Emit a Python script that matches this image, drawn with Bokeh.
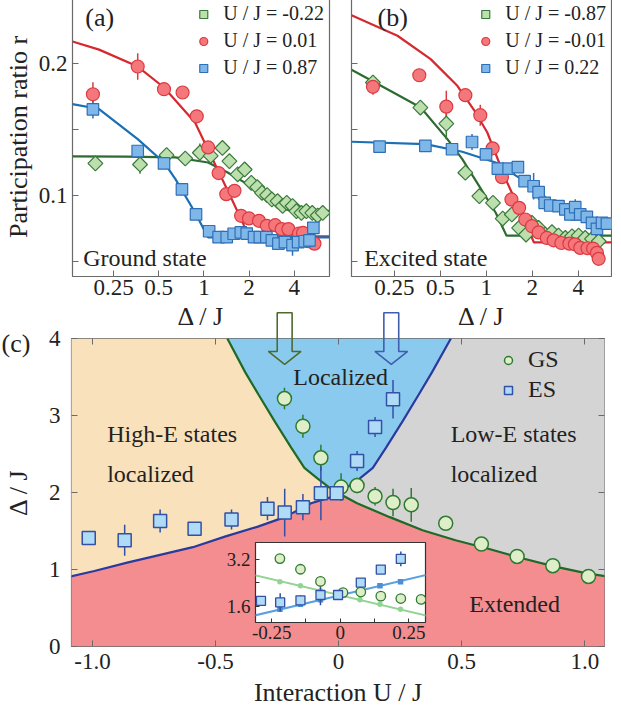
import numpy as np
from bokeh.plotting import figure
from bokeh.models import (Range1d, FixedTicker, LinearAxis, Legend, LegendItem, Label,
                          NumeralTickFormatter, CustomJSTickFormatter)
from bokeh.layouts import column
from bokeh.embed import file_html
from bokeh.resources import INLINE

FONT = "Liberation Serif"

# ---------------- data: panels (a) and (b) ----------------
ab_x_ticks = [0.25, 0.5, 1, 2, 4]
ab_y_ticks = [0.1, 0.2]
ab_y_minor = [0.05, 0.15]

a_green_x = [0.189, 0.375, 0.564, 0.751, 0.94, 1.11, 1.33, 1.48, 1.68, 1.87, 2.07, 2.27, 2.44, 2.64,
             2.84, 3.1, 3.35, 3.57, 3.9, 4.14, 4.47, 4.82, 5.28, 5.74, 6.2]
a_green_y = [0.1243, 0.1235, 0.1306, 0.128, 0.1324, 0.130, 0.136, 0.126, 0.116, 0.1197, 0.1096, 0.1063,
             0.102, 0.1003, 0.097, 0.0957, 0.092, 0.0944, 0.092, 0.0881, 0.0868, 0.0881, 0.0868, 0.0848, 0.0868]
a_green_e = [0, 0.007, 0, 0.004, 0.007, 0, 0, 0, 0, 0, 0, 0, 0, 0, 0, 0, 0, 0, 0, 0, 0, 0, 0, 0, 0]

a_red_x = [0.182, 0.362, 0.542, 0.721, 0.896, 1.067, 1.254, 1.41, 1.6, 1.77, 2.0, 2.33, 2.63, 2.99,
           3.3, 3.66, 4.3, 4.58, 4.94, 5.46]
a_red_y = [0.1767, 0.1977, 0.1805, 0.178, 0.160, 0.1364, 0.117, 0.101, 0.1035, 0.0846, 0.0826, 0.0808,
           0.077, 0.0775, 0.0745, 0.0745, 0.0712, 0.0716, 0.0653, 0.0635]
a_red_e = [0.009, 0.01, 0.004, 0, 0, 0, 0, 0, 0, 0, 0, 0, 0, 0, 0, 0, 0, 0, 0, 0]

a_blue_x = [0.182, 0.362, 0.542, 0.714, 0.886, 1.084, 1.254, 1.42, 1.58, 1.764, 1.93, 2.16, 2.36, 2.61,
            2.84, 3.14, 3.47, 3.9, 4.25, 4.7, 5.06, 5.37]
a_blue_y = [0.1653, 0.1337, 0.1243, 0.1046, 0.0856, 0.0729, 0.0684, 0.0684, 0.071, 0.072, 0.0711, 0.0684,
            0.0684, 0.0684, 0.066, 0.0635, 0.0646, 0.0623, 0.0646, 0.0653, 0.066, 0.0755]
a_blue_e = [0.007, 0.004, 0, 0, 0, 0, 0, 0, 0, 0, 0, 0, 0, 0, 0, 0, 0, 0.008, 0, 0, 0, 0.004]

a_fit_green_x = [0.133, 0.3, 0.646, 1.067, 1.44, 1.95, 2.63, 3.2, 3.74, 6.9]
a_fit_green_y = [0.1296, 0.1295, 0.1288, 0.125, 0.1174, 0.1086, 0.0972, 0.0923, 0.0884, 0.0884]
a_fit_red_x = [0.133, 0.2, 0.362, 0.542, 0.873, 1.2, 1.5, 2.0, 6.9]
a_fit_red_y = [0.2167, 0.2105, 0.1977, 0.1818, 0.1553, 0.1225, 0.0996, 0.069, 0.069]
a_fit_blue_x = [0.133, 0.2, 0.362, 0.542, 0.646, 0.873, 1.067, 6.9]
a_fit_blue_y = [0.1692, 0.1655, 0.1427, 0.125, 0.1124, 0.0871, 0.0682, 0.0682]

b_green_x = [0.181, 0.37, 0.547, 0.729, 0.9, 1.106, 1.28, 1.47, 1.64, 1.82, 1.99, 2.2, 2.43, 2.69,
             2.97, 3.29, 3.64, 4.02, 4.44, 4.92, 5.44]
b_green_y = [0.1856, 0.1666, 0.1544, 0.1172, 0.0995, 0.0944, 0.0825, 0.0856, 0.0754, 0.0704, 0.0792,
             0.0754, 0.0704, 0.0722, 0.0696, 0.0678, 0.0691, 0.0696, 0.0678, 0.0671, 0.0653]
b_green_e = [0, 0, 0.012, 0, 0, 0, 0, 0, 0, 0, 0, 0, 0, 0, 0, 0, 0, 0, 0, 0, 0]

b_red_x = [0.181, 0.364, 0.547, 0.729, 0.913, 1.1, 1.266, 1.46, 1.64, 1.8, 1.99, 2.2, 2.49, 2.76, 3.1,
           3.5, 3.8, 4.12, 4.6, 5.0, 5.3, 5.44]
b_red_y = [0.1823, 0.1911, 0.1673, 0.176, 0.1608, 0.1357, 0.1139, 0.097, 0.0906, 0.0818, 0.0767, 0.072,
           0.0678, 0.066, 0.064, 0.0635, 0.063, 0.0603, 0.06, 0.0598, 0.0565, 0.052]
b_red_e = [0.006, 0.005, 0.012, 0, 0.008, 0.004, 0, 0, 0, 0, 0, 0, 0, 0, 0, 0, 0, 0, 0, 0, 0, 0]

b_blue_x = [0.2, 0.399, 0.596, 0.806, 0.995, 1.19, 1.4, 1.61, 1.78, 2.04, 2.2, 2.41, 2.62, 2.97, 3.29,
            3.55, 3.82, 4.12, 4.55, 4.92, 5.3, 5.72, 6.16]
b_blue_y = [0.137, 0.1375, 0.135, 0.1405, 0.1311, 0.1203, 0.1203, 0.1215, 0.1109, 0.107, 0.1025, 0.0944,
            0.0924, 0.0919, 0.0894, 0.0856, 0.0911, 0.0856, 0.0838, 0.0792, 0.0747, 0.0792, 0.0787]
b_blue_e = [0, 0, 0, 0.006, 0, 0, 0, 0, 0, 0.01, 0.006, 0, 0, 0, 0, 0, 0.006, 0, 0, 0, 0, 0, 0]

b_fit_green_x = [0.131, 0.225, 0.372, 0.556, 0.696, 0.896, 1.15, 1.357, 6.9]
b_fit_green_y = [0.1952, 0.1805, 0.1667, 0.1427, 0.1275, 0.1073, 0.0871, 0.0695, 0.0695]
b_fit_red_x = [0.131, 0.262, 0.432, 0.646, 0.851, 1.015, 1.338, 1.7, 2.05, 6.9]
b_fit_red_y = [0.2366, 0.221, 0.2033, 0.1831, 0.1629, 0.1477, 0.1123, 0.0864, 0.0644, 0.0644]
b_fit_blue_x = [0.131, 0.4, 0.696, 1.15, 1.9, 2.44, 3.14, 3.6, 6.9]
b_fit_blue_y = [0.1407, 0.1389, 0.1331, 0.125, 0.1086, 0.0985, 0.0871, 0.0816, 0.0816]

a_labels = ["U / J = -0.22", "U / J = 0.01", "U / J = 0.87"]
b_labels = ["U / J = -0.87", "U / J = -0.01", "U / J = 0.22"]

# ---------------- data: panel (c) ----------------
c_x_ticks = [-1.0, -0.5, 0.0, 0.5, 1.0]
c_y_ticks = [0, 1, 2, 3, 4]

gs_u = [-0.22, -0.145, -0.072, 0.01, 0.075, 0.148, 0.221, 0.295, 0.435, 0.58, 0.725, 0.87, 1.015]
gs_d = [3.22, 2.86, 2.45, 2.07, 2.09, 1.95, 1.87, 1.84, 1.60, 1.33, 1.17, 1.05, 0.91]
gs_e = [0.14, 0.15, 0.17, 0.18, 0.1, 0.12, 0.18, 0.22, 0.04, 0.04, 0.04, 0.03, 0.03]

es_u = [-1.015, -0.869, -0.725, -0.585, -0.435, -0.289, -0.219, -0.145, -0.072, -0.008, 0.075, 0.148, 0.221]
es_d = [1.41, 1.38, 1.63, 1.53, 1.65, 1.79, 1.74, 1.81, 1.99, 1.99, 2.41, 2.85, 3.21]
es_e = [0.05, 0.2, 0.15, 0.04, 0.13, 0.15, 0.31, 0.17, 0.35, 0.05, 0.13, 0.13, 0.25]

gs_bnd_u = [-0.452, -0.379, -0.325, -0.259, -0.192, -0.139, -0.085, -0.04, 0.0, 0.075, 0.208, 0.341,
            0.475, 0.608, 0.741, 0.875, 1.008, 1.088]
gs_bnd_d = [4.0, 3.56, 3.27, 2.92, 2.58, 2.32, 2.18, 2.07, 1.99, 1.86, 1.68, 1.51, 1.38, 1.27, 1.15,
            1.04, 0.95, 0.91]
es_bnd_u = [-1.088, -0.992, -0.859, -0.725, -0.592, -0.459, -0.325, -0.219, -0.112, -0.04, 0.0, 0.04,
            0.085, 0.139, 0.192, 0.259, 0.325, 0.379, 0.456]
es_bnd_d = [0.91, 0.98, 1.09, 1.19, 1.29, 1.43, 1.56, 1.68, 1.86, 1.93, 1.99, 2.08, 2.18, 2.32, 2.58,
            2.92, 3.27, 3.56, 4.0]

arrow_u = [-0.21, 0.22]

# inset
ins_x_ticks = [-0.25, 0.0, 0.25]
ins_x_minor = [-0.125, 0.125]
ins_y_ticks = [1.6, 3.2]
ins_y_minor = [2.4]
ins_u = [-0.22, -0.145, -0.072, 0.0, 0.072, 0.145, 0.22]
ins_gs_fit = [2.44, 2.30, 2.13, 1.98, 1.83, 1.68, 1.51]
ins_es_fit = [1.51, 1.68, 1.83, 1.98, 2.13, 2.30, 2.44]
ins_line_u = [-0.32, 0.32]
ins_gs_line = [2.68, 1.28]
ins_es_line = [1.28, 2.68]

# ---------------- styles ----------------
GREEN_F, GREEN_E, GREEN_L = "#bcdfae", "#3c7a3c", "#2d6b30"
RED_F, RED_E, RED_L = "#f4777b", "#dc3a40", "#d8282f"
BLUE_F, BLUE_E, BLUE_L = "#7fb8e8", "#2f6fb6", "#1a6fb5"
FRAME = "#6a6a6a"
TXT = "#222222"
BLANK = CustomJSTickFormatter(code="return '';")


def place(p, left, top):
    p.styles = {"position": "absolute", "left": f"{left}px", "top": f"{top}px"}
    p.frame_align = False


def style_axes(p, tick_size="23px"):
    for ax in p.axis:
        ax.axis_line_color = None
        ax.major_tick_in = 6
        ax.major_tick_out = 0
        ax.minor_tick_in = 6
        ax.minor_tick_out = 0
        ax.major_tick_line_color = FRAME
        ax.minor_tick_line_color = FRAME
        ax.major_label_text_font = FONT
        ax.major_label_text_font_size = tick_size
        ax.major_label_text_color = TXT
        ax.axis_label_text_font = FONT
        ax.axis_label_text_font_size = "26px"
        ax.axis_label_text_font_style = "normal"
        ax.axis_label_text_color = TXT
    p.grid.visible = False
    p.outline_line_color = FRAME
    p.outline_line_width = 1.2


def errbars(p, x, y, e, color):
    x = np.asarray(x); y = np.asarray(y); e = np.asarray(e)
    m = e > 0
    p.segment(x0=x[m], y0=y[m] - e[m], x1=x[m], y1=y[m] + e[m], line_color=color, line_width=1.5)


def panel_ab(tag, tag_f, state_f, x_range, width, b_left, b_right, show_y, data, fits, labels, state_text):
    p = figure(width=width, height=342, x_axis_type="log", x_range=x_range,
               y_range=Range1d(0.0386, 0.25), output_backend="svg", toolbar_location=None,
               min_border_left=b_left, min_border_right=b_right, min_border_top=1, min_border_bottom=62)
    style_axes(p)
    p.xaxis.ticker = FixedTicker(ticks=ab_x_ticks, minor_ticks=[])
    p.xaxis.formatter = NumeralTickFormatter(format="0.[00]")
    p.xaxis.axis_label = "Δ / J"
    p.xaxis.major_label_standoff = 3
    p.xaxis.axis_label_standoff = 4
    p.yaxis.ticker = FixedTicker(ticks=ab_y_ticks, minor_ticks=ab_y_minor)
    p.yaxis.formatter = NumeralTickFormatter(format="0.0")
    if show_y:
        p.yaxis.axis_label = "Participation ratio r"
        p.yaxis.major_label_standoff = 5
        p.yaxis.axis_label_standoff = 3
    else:
        p.yaxis.formatter = BLANK
        p.yaxis.major_label_standoff = 0

    (gx, gy, ge), (rx, ry, re), (bx, by, be) = data
    (fgx, fgy), (frx, fry), (fbx, fby) = fits
    p.line(fgx, fgy, line_color=GREEN_L, line_width=2.2)
    p.line(frx, fry, line_color=RED_L, line_width=2.2)
    p.line(fbx, fby, line_color=BLUE_L, line_width=2.2)
    errbars(p, gx, gy, ge, GREEN_E)
    errbars(p, rx, ry, re, RED_E)
    errbars(p, bx, by, be, BLUE_E)
    rg = p.scatter(gx, gy, marker="square", angle=np.pi / 4, size=10.5, fill_color=GREEN_F,
                   line_color=GREEN_E, line_width=1.2)
    rr = p.scatter(rx, ry, marker="circle", size=13, fill_color=RED_F, line_color=RED_E, line_width=1.2)
    rb = p.scatter(bx, by, marker="square", size=11.5, fill_color=BLUE_F, line_color=BLUE_E, line_width=1.2)

    leg = Legend(items=[LegendItem(label=labels[0], renderers=[rg]),
                        LegendItem(label=labels[1], renderers=[rr]),
                        LegendItem(label=labels[2], renderers=[rb])],
                 location="top_right", margin=5, padding=5, spacing=4,
                 glyph_width=20, glyph_height=20, label_height=20, label_standoff=10,
                 label_text_font=FONT, label_text_font_size="20px", label_text_color=TXT,
                 border_line_color=None, background_fill_alpha=0)
    p.add_layout(leg)
    p.add_layout(Label(x=x_range.start * tag_f, y=0.2348, text=tag, text_font=FONT, text_font_size="26px",
                       text_baseline="middle", text_color=TXT))
    p.add_layout(Label(x=x_range.start * state_f, y=0.0523, text=state_text, text_font=FONT,
                       text_font_size="24px", text_baseline="middle", text_color=TXT))
    return p


pa = panel_ab("(a)", 1.216, 1.18, Range1d(0.133, 6.88), 337, 67, 8, True,
              [(a_green_x, a_green_y, a_green_e), (a_red_x, a_red_y, a_red_e), (a_blue_x, a_blue_y, a_blue_e)],
              [(a_fit_green_x, a_fit_green_y), (a_fit_red_x, a_fit_red_y), (a_fit_blue_x, a_fit_blue_y)],
              a_labels, "Ground state")
pb = panel_ab("(b)", 1.48, 1.21, Range1d(0.131, 6.6), 275, 14, 1, False,
              [(b_green_x, b_green_y, b_green_e), (b_red_x, b_red_y, b_red_e), (b_blue_x, b_blue_y, b_blue_e)],
              [(b_fit_green_x, b_fit_green_y), (b_fit_red_x, b_fit_red_y), (b_fit_blue_x, b_fit_blue_y)],
              b_labels, "Excited state")
place(pa, 0, -4)
place(pb, 337, -4)

# ---------------- panel (c) ----------------
Y_TOP = 4.0
C_LEFT, C_RIGHT, C_TOP, C_BOTTOM = 68, 1, 30, 68
C_W, C_H = 612, 406
cx_range = Range1d(-1.085, 1.08)
pc = figure(width=C_W, height=C_H, x_range=cx_range, y_range=Range1d(0, Y_TOP),
            output_backend="svg", toolbar_location=None, min_border_left=C_LEFT, min_border_right=C_RIGHT,
            min_border_top=C_TOP, min_border_bottom=C_BOTTOM, border_fill_color=None)
pc.add_layout(LinearAxis(), "above")
pc.add_layout(LinearAxis(), "right")
style_axes(pc)
c_fmt = CustomJSTickFormatter(code="return Math.abs(tick) >= 1 ? tick.toFixed(1) : tick.toString();")
for ax in pc.xaxis:
    ax.ticker = FixedTicker(ticks=c_x_ticks, minor_ticks=[])
    ax.formatter = c_fmt
for ax in pc.yaxis:
    ax.ticker = FixedTicker(ticks=c_y_ticks, minor_ticks=[])
for ax in pc.above + pc.right:
    ax.formatter = BLANK
    ax.major_label_standoff = 0
pc.below[0].axis_label = "Interaction U / J"
pc.below[0].major_label_standoff = 7
pc.below[0].axis_label_standoff = 6
pc.left[0].axis_label = "Δ / J"
pc.left[0].major_label_standoff = 11
pc.left[0].axis_label_standoff = 13

gu, gd = np.array(gs_bnd_u), np.array(gs_bnd_d)
eu, ed = np.array(es_bnd_u), np.array(es_bnd_d)
gl, gr = gu <= 0, gu >= 0
el, er = eu <= 0, eu >= 0
x_left, x_right = eu[0], gu[-1]
red_x = [x_left, x_right] + list(gu[gr][::-1]) + list(eu[el][::-1])
red_y = [0, 0] + list(gd[gr][::-1]) + list(ed[el][::-1])
tan_x = list(eu[el]) + list(gu[gl][::-1]) + [x_left]
tan_y = list(ed[el]) + list(gd[gl][::-1]) + [Y_TOP]
blu_x = list(gu[gl]) + list(eu[er])
blu_y = list(gd[gl]) + list(ed[er])
gry_x = list(gu[gr]) + [x_right] + list(eu[er][::-1])
gry_y = list(gd[gr]) + [Y_TOP] + list(ed[er][::-1])
pc.patches(xs=[red_x, tan_x, blu_x, gry_x], ys=[red_y, tan_y, blu_y, gry_y],
           fill_color=["#f38d90", "#f8e1bb", "#89caee", "#d4d4d4"], line_color=None)
pc.line(gs_bnd_u, gs_bnd_d, line_color="#1f6a25", line_width=2.2)
pc.line(es_bnd_u, es_bnd_d, line_color="#2b3a9e", line_width=2.2)

GS_F, GS_E = "#ddeec9", "#2e7a30"
ES_F, ES_E = "#b0dbf6", "#3150a6"
errbars(pc, gs_u, gs_d, gs_e, GS_E)
errbars(pc, es_u, es_d, es_e, ES_E)
r_gs = pc.scatter(gs_u, gs_d, marker="circle", size=14, fill_color=GS_F, line_color=GS_E, line_width=1.5)
r_es = pc.scatter(es_u, es_d, marker="square", size=13, fill_color=ES_F, line_color=ES_E, line_width=1.5)

for txt, x, y, align in [("Localized", 0.008, 3.5, "center"), ("High-E states", -0.94, 2.76, "left"),
                         ("localized", -0.94, 2.24, "left"), ("Low-E states", 0.455, 2.76, "left"),
                         ("localized", 0.455, 2.24, "left"), ("Extended", 0.715, 0.55, "center")]:
    pc.add_layout(Label(x=x, y=y, text=txt, text_font=FONT, text_font_size="24px", text_align=align,
                        text_baseline="middle", text_color=TXT))

legc = Legend(items=[LegendItem(label="GS", renderers=[r_gs]), LegendItem(label="ES", renderers=[r_es])],
              location=(427, 243), margin=0, padding=0, spacing=3, glyph_width=20, glyph_height=20,
              label_height=20, label_standoff=10, label_text_font=FONT, label_text_font_size="24px",
              label_text_color=TXT, border_line_color=None, background_fill_alpha=0)
pc.add_layout(legc)
C_POS_TOP = 308
place(pc, 0, C_POS_TOP)

# ---------------- overlay for arrows and "(c)" (same data coordinates as panel c) ----------------
frame_w = C_W - C_LEFT - C_RIGHT
frame_h = C_H - C_TOP - C_BOTTOM
ppx = frame_w / (cx_range.end - cx_range.start)
ppy = frame_h / Y_TOP
OV_H = 70
po = figure(width=C_W, height=OV_H,
            x_range=Range1d(cx_range.start - C_LEFT / ppx, cx_range.end + C_RIGHT / ppx),
            y_range=Range1d(Y_TOP - (OV_H - C_TOP) / ppy, Y_TOP + C_TOP / ppy),
            output_backend="svg", toolbar_location=None, x_axis_location=None, y_axis_location=None,
            min_border=0, min_border_left=0, min_border_right=0, min_border_top=0, min_border_bottom=0,
            background_fill_color=None, border_fill_color=None, outline_line_color=None)
po.grid.visible = False
sw, hw = 0.03, 0.066
arr_xs = [[u - sw, u + sw, u + sw, u + hw, u, u - hw, u - sw, u - sw] for u in arrow_u]
arr_ys = [[4.335, 4.335, 3.832, 3.832, 3.665, 3.832, 3.832, 4.335] for u in arrow_u]
po.patches(xs=arr_xs, ys=arr_ys, fill_color=None, line_color=["#4d6b2c", "#3f5eae"], line_width=1.6)
po.add_layout(Label(x=cx_range.start - (C_LEFT - 1) / ppx, y=3.935, text="(c)", text_font=FONT,
                    text_font_size="26px", text_baseline="middle", text_color=TXT))
place(po, 0, C_POS_TOP)

# ---------------- inset ----------------
pi = figure(width=210, height=110, x_range=Range1d(-0.309, 0.311), y_range=Range1d(1.06, 3.764),
            output_backend="svg", toolbar_location=None, min_border_left=32, min_border_right=8,
            min_border_top=2, min_border_bottom=28, border_fill_color=None, background_fill_color="white")
style_axes(pi, tick_size="19px")
pi.outline_line_color = "#333333"
pi.xaxis.ticker = FixedTicker(ticks=ins_x_ticks, minor_ticks=ins_x_minor)
pi.xaxis.formatter = CustomJSTickFormatter(code="return tick.toString();")
pi.yaxis.ticker = FixedTicker(ticks=ins_y_ticks, minor_ticks=ins_y_minor)
pi.yaxis.formatter = NumeralTickFormatter(format="0.0")
for ax in pi.axis:
    ax.major_tick_in = 4
    ax.minor_tick_in = 4
    ax.major_tick_line_color = "#333333"
    ax.minor_tick_line_color = "#333333"
pi.xaxis.major_label_standoff = 3
pi.yaxis.major_label_standoff = 5
pi.line(ins_line_u, ins_gs_line, line_color="#93d393", line_width=2)
pi.line(ins_line_u, ins_es_line, line_color="#5aa0e0", line_width=2)
pi.scatter(ins_u, ins_gs_fit, marker="circle", size=5.5, fill_color="#93d393", line_color=None)
pi.scatter(ins_u, ins_es_fit, marker="square", size=5.5, fill_color="#4a8fd8", line_color=None)
gsu, gsd, gse = np.array(gs_u), np.array(gs_d), np.array(gs_e)
esu, esd, ese = np.array(es_u), np.array(es_d), np.array(es_e)
mg, me = np.abs(gsu) < 0.3, np.abs(esu) < 0.3
errbars(pi, esu[me], esd[me], ese[me], ES_E)
pi.scatter(gsu[mg], gsd[mg], marker="circle", size=9.5, fill_color=GS_F, line_color=GS_E, line_width=1.3)
pi.scatter(esu[me], esd[me], marker="square", size=9, fill_color=ES_F, line_color=ES_E, line_width=1.3)
place(pi, 223, 540)

layout = column(pa, pb, pc, po, pi, width=605, height=690)
layout.styles = {"position": "relative"}
open("out.html", "w").write(file_html(layout, INLINE))
